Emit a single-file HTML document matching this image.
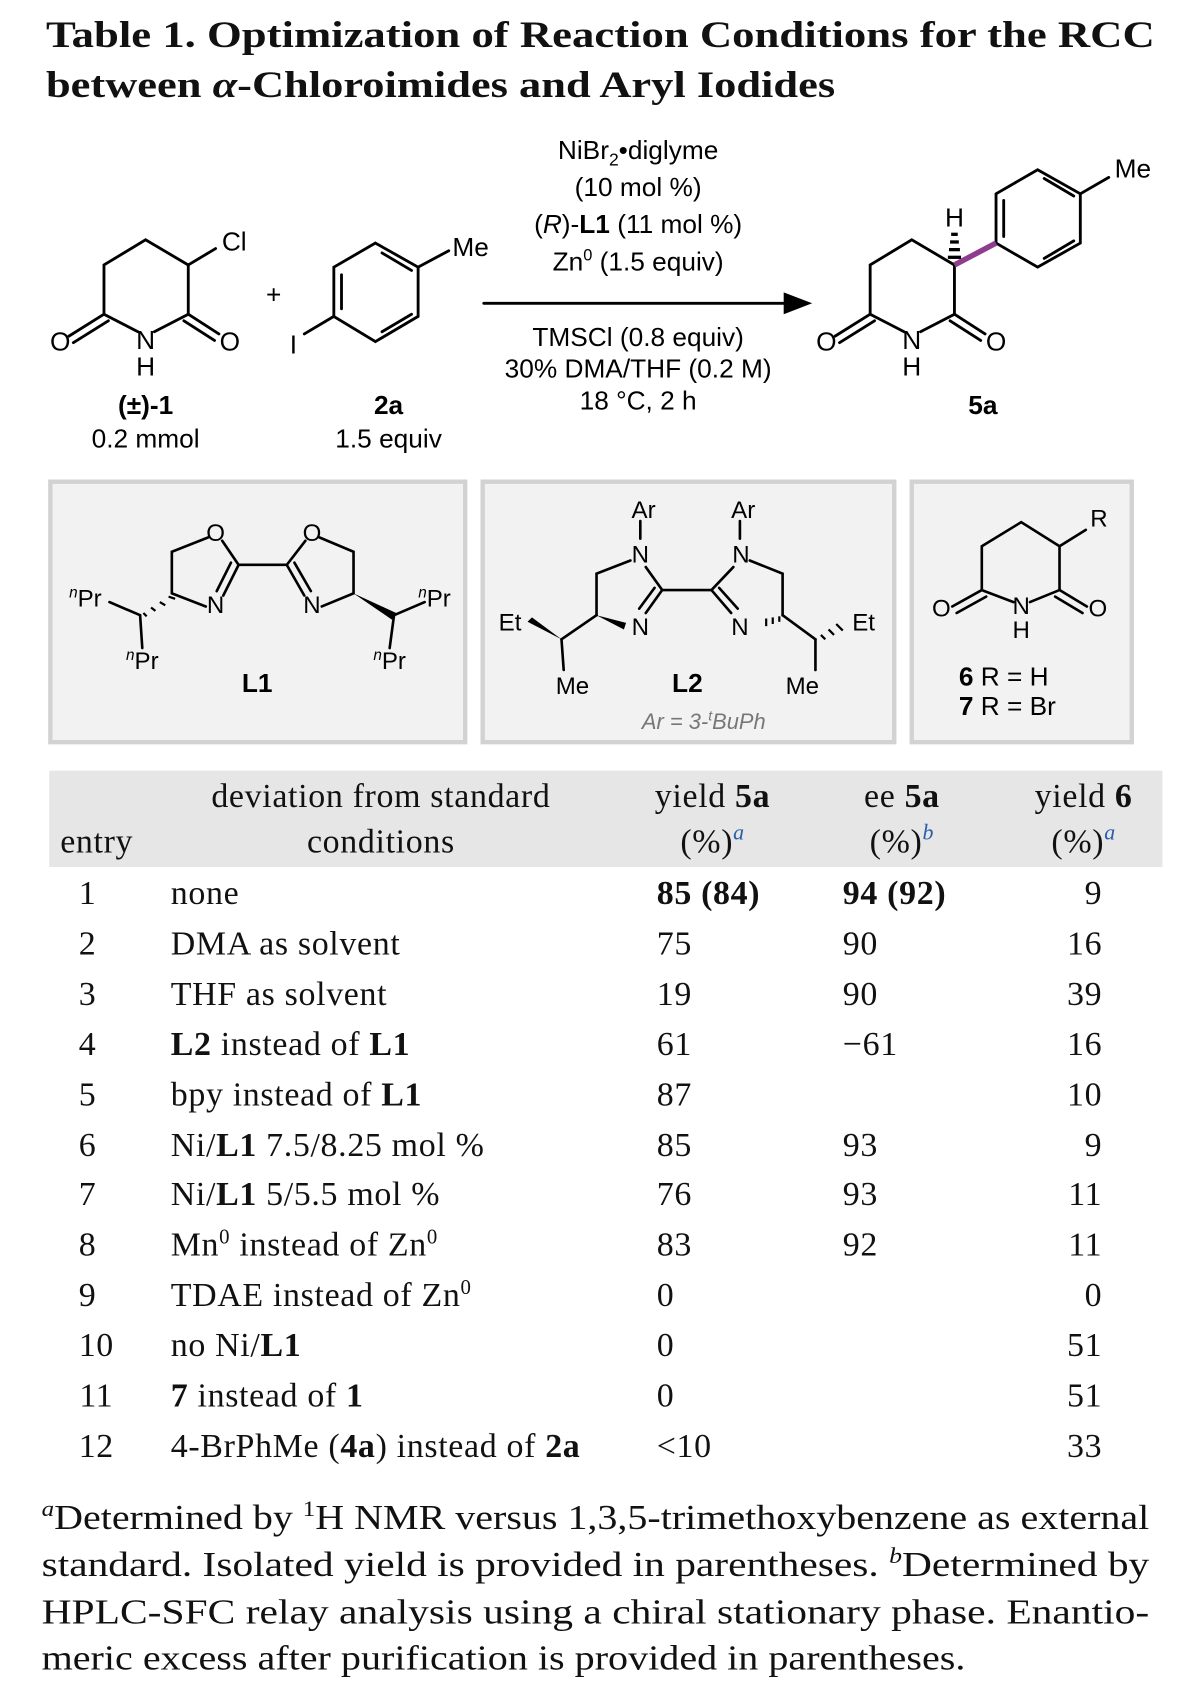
<!DOCTYPE html>
<html><head><meta charset="utf-8"><style>
html,body{margin:0;padding:0;background:#fff;}
svg{display:block}
.s{font-family:"Liberation Sans",sans-serif;fill:#000}
.r{font-family:"Liberation Serif",serif;fill:#111}
.t{letter-spacing:0.6px}
</style></head><body>
<svg width="1204" height="1700" viewBox="0 0 1100 1553" xmlns="http://www.w3.org/2000/svg">
<g class="r" font-weight="bold" font-size="34">
<text x="42" y="43" textLength="1013" lengthAdjust="spacingAndGlyphs">Table 1. Optimization of Reaction Conditions for the RCC</text>
<text x="42" y="88.5" textLength="721" lengthAdjust="spacingAndGlyphs">between <tspan font-style="italic">α</tspan>-Chloroimides and Aryl Iodides</text>
</g>
<g transform="translate(0,-3)">
<g stroke="#000" stroke-width="2.6" fill="none" stroke-linecap="round">
<polyline points="126,306 95,290 95,245 133,222 172,245 172,290 141,306"/>
<line x1="172" y1="245" x2="197" y2="230"/>
<line x1="95" y1="290" x2="63" y2="310"/><line x1="99" y1="296" x2="67" y2="316"/>
<line x1="172" y1="290" x2="200" y2="308"/><line x1="168" y1="296" x2="196" y2="314"/>
<polygon points="343,225 382,247 382,292 343,315 305,292 305,247"/>
<line x1="312" y1="254" x2="312" y2="285"/><line x1="349" y1="306" x2="376" y2="290"/><line x1="349" y1="234" x2="376" y2="250"/>
<line x1="382" y1="247" x2="410" y2="232"/>
<line x1="305" y1="292" x2="278" y2="308"/>
<line x1="442" y1="280" x2="722" y2="280"/>
<polyline points="826,306 795,290 795,245 833,222 872,245 872,290 841,306"/>
<line x1="795" y1="290" x2="763" y2="310"/><line x1="799" y1="296" x2="767" y2="316"/>
<line x1="872" y1="290" x2="900" y2="308"/><line x1="868" y1="296" x2="896" y2="314"/>
<polygon points="910,180 948,158 987,180 987,225 948,247 910,225"/>
<line x1="917" y1="186" x2="917" y2="219"/><line x1="954" y1="166" x2="981" y2="182"/><line x1="954" y1="239" x2="981" y2="223"/>
<line x1="987" y1="180" x2="1013" y2="165"/>
</g>
<line x1="872" y1="245" x2="910" y2="225" stroke="#8e3c8e" stroke-width="5"/>
<g stroke="#000" stroke-width="3"><line x1="866" y1="238" x2="878" y2="238"/><line x1="867" y1="231" x2="877" y2="231"/><line x1="868" y1="224" x2="876" y2="224"/><line x1="869" y1="217" x2="875" y2="217"/></g>
<polygon points="742,280 716,270 716,290" fill="#000"/>
<g class="s" font-size="24" text-anchor="middle">
<text x="214" y="232">Cl</text><text x="55" y="323">O</text><text x="210" y="323">O</text>
<text x="133" y="322">N</text><text x="133" y="346">H</text>
<text x="133" y="381" font-weight="bold">(±)-1</text><text x="133" y="412">0.2 mmol</text>
<text x="250" y="280">+</text>
<text x="430" y="237">Me</text><text x="268" y="326">I</text>
<text x="355" y="381" font-weight="bold">2a</text><text x="355" y="412">1.5 equiv</text>
<text x="583" y="148">NiBr<tspan font-size="16" dy="6">2</tspan><tspan dy="-6">•diglyme</tspan></text>
<text x="583" y="182">(10 mol %)</text>
<text x="583" y="216">(<tspan font-style="italic">R</tspan>)-<tspan font-weight="bold">L1</tspan> (11 mol %)</text>
<text x="583" y="250">Zn<tspan font-size="15" dy="-9">0</tspan><tspan dy="9"> (1.5 equiv)</tspan></text>
<text x="583" y="319">TMSCl (0.8 equiv)</text>
<text x="583" y="348">30% DMA/THF (0.2 M)</text>
<text x="583" y="377">18 °C, 2 h</text>
<text x="755" y="323">O</text><text x="910" y="323">O</text>
<text x="833" y="322">N</text><text x="833" y="346">H</text>
<text x="872" y="210">H</text>
<text x="1035" y="165">Me</text>
<text x="898" y="381" font-weight="bold">5a</text>
</g>
</g>
<g transform="translate(0,-6)">
<g fill="#f2f2f2" stroke="#d2d2d2" stroke-width="4">
<rect x="46" y="446" width="379" height="238"/><rect x="441" y="446" width="376" height="238"/><rect x="833" y="446" width="201" height="238"/>
</g>
<g stroke="#000" stroke-width="2.4" fill="none" stroke-linecap="round">
<polyline points="190,497 157,510 157,548 188,560"/><line x1="203" y1="500" x2="218" y2="522"/><line x1="218" y1="522" x2="204" y2="550"/><line x1="211" y1="520" x2="198" y2="546"/>
<line x1="218" y1="522" x2="262" y2="522"/>
<polyline points="292,497 323,510 323,548 294,560"/><line x1="279" y1="500" x2="262" y2="522"/><line x1="262" y1="522" x2="278" y2="550"/><line x1="269" y1="520" x2="284" y2="546"/>
<line x1="128" y1="568" x2="100" y2="556"/><line x1="128" y1="568" x2="130" y2="598"/>
<line x1="360" y1="568" x2="388" y2="556"/><line x1="360" y1="568" x2="356" y2="598"/>
<line x1="585" y1="482" x2="585" y2="498"/><line x1="676" y1="482" x2="676" y2="498"/>
<polyline points="576,518 545,530 545,568"/><line x1="590" y1="524" x2="605" y2="545"/>
<line x1="605" y1="545" x2="590" y2="566"/><line x1="598" y1="543" x2="584" y2="562"/>
<line x1="605" y1="545" x2="650" y2="545"/>
<polyline points="685,518 715,530 715,568"/><line x1="670" y1="524" x2="650" y2="545"/>
<line x1="650" y1="545" x2="668" y2="566"/><line x1="657" y1="543" x2="674" y2="562"/>
<line x1="513" y1="590" x2="515" y2="618"/><line x1="745" y1="590" x2="745" y2="618"/>
<line x1="545" y1="568" x2="513" y2="590"/><line x1="715" y1="568" x2="745" y2="590"/>
<polyline points="926,556 897,545 897,505 933,483 968,505 968,545 941,556"/>
<line x1="968" y1="505" x2="992" y2="490"/>
<line x1="897" y1="545" x2="870" y2="560"/><line x1="901" y1="551" x2="874" y2="566"/>
<line x1="968" y1="545" x2="993" y2="560"/><line x1="964" y1="551" x2="989" y2="566"/>
</g>
<g fill="#000">
<polygon points="323,548 362,566 358,572"/>
<polygon points="545,568 572,575 570,581"/>
<polygon points="513,590 482,574 486,570"/>
</g>
<g stroke="#000" stroke-width="2">
<line x1="154" y1="551" x2="160" y2="553"/><line x1="146" y1="556" x2="151" y2="559"/><line x1="138" y1="561" x2="142" y2="564"/><line x1="131" y1="566" x2="134" y2="569"/>
<line x1="700" y1="571" x2="700" y2="578"/><line x1="706" y1="570" x2="706" y2="576"/><line x1="712" y1="569" x2="712" y2="574"/>
<line x1="750" y1="586" x2="754" y2="590"/><line x1="757" y1="581" x2="762" y2="586"/><line x1="764" y1="576" x2="770" y2="582"/>
</g>
<g class="s" font-size="22" text-anchor="middle">
<text x="197" y="500">O</text><text x="285" y="500">O</text><text x="197" y="566">N</text><text x="285" y="566">N</text>
<text x="78" y="560"><tspan font-size="14" dy="-8" font-style="italic">n</tspan><tspan dy="8">Pr</tspan></text>
<text x="130" y="617"><tspan font-size="14" dy="-8" font-style="italic">n</tspan><tspan dy="8">Pr</tspan></text>
<text x="397" y="560"><tspan font-size="14" dy="-8" font-style="italic">n</tspan><tspan dy="8">Pr</tspan></text>
<text x="356" y="617"><tspan font-size="14" dy="-8" font-style="italic">n</tspan><tspan dy="8">Pr</tspan></text>
<text x="235" y="638" font-weight="bold" font-size="24">L1</text>
<text x="588" y="479">Ar</text><text x="679" y="479">Ar</text>
<text x="585" y="520">N</text><text x="677" y="520">N</text>
<text x="585" y="586">N</text><text x="676" y="586">N</text>
<text x="466" y="582">Et</text><text x="789" y="582">Et</text>
<text x="523" y="640">Me</text><text x="733" y="640">Me</text>
<text x="628" y="638" font-weight="bold" font-size="24">L2</text>
<text x="643" y="672" font-style="italic" fill="#777" font-size="20">Ar = 3-<tspan font-size="13" dy="-8">t</tspan><tspan dy="8">BuPh</tspan></text>
<text x="1004" y="487">R</text>
<text x="860" y="569">O</text><text x="1003" y="569">O</text>
<text x="933" y="567">N</text><text x="933" y="589">H</text>
</g>
<g class="s" font-size="24">
<text x="876" y="632"><tspan font-weight="bold">6</tspan>  R = H</text>
<text x="876" y="659"><tspan font-weight="bold">7</tspan>  R = Br</text>
</g>
</g>
<rect x="45" y="704" width="1017" height="88" fill="#e6e6e6"/>
<g class="r t" font-size="31">
<text x="55" y="779">entry</text>
<text x="348" y="737" text-anchor="middle">deviation from standard</text>
<text x="348" y="779" text-anchor="middle">conditions</text>
<text x="651" y="737" text-anchor="middle">yield <tspan font-weight="bold">5a</tspan></text>
<text x="651" y="779" text-anchor="middle">(%)<tspan font-style="italic" font-size="20" dy="-12" fill="#2a5fa8">a</tspan></text>
<text x="824" y="737" text-anchor="middle">ee <tspan font-weight="bold">5a</tspan></text>
<text x="824" y="779" text-anchor="middle">(%)<tspan font-style="italic" font-size="20" dy="-12" fill="#2a5fa8">b</tspan></text>
<text x="990" y="737" text-anchor="middle">yield <tspan font-weight="bold">6</tspan></text>
<text x="990" y="779" text-anchor="middle">(%)<tspan font-style="italic" font-size="20" dy="-12" fill="#2a5fa8">a</tspan></text>
</g>
<g class="r t" font-size="31">
<g text-anchor="middle">
<text x="80" y="826">1</text><text x="80" y="872">2</text><text x="80" y="918">3</text><text x="80" y="964">4</text><text x="80" y="1010">5</text><text x="80" y="1056">6</text><text x="80" y="1101">7</text><text x="80" y="1147">8</text><text x="80" y="1193">9</text><text x="88" y="1239">10</text><text x="88" y="1285">11</text><text x="88" y="1331">12</text>
</g>
<text x="156" y="826">none</text>
<text x="156" y="872">DMA as solvent</text>
<text x="156" y="918">THF as solvent</text>
<text x="156" y="964"><tspan font-weight="bold">L2</tspan> instead of <tspan font-weight="bold">L1</tspan></text>
<text x="156" y="1010">bpy instead of <tspan font-weight="bold">L1</tspan></text>
<text x="156" y="1056">Ni/<tspan font-weight="bold">L1</tspan> 7.5/8.25 mol %</text>
<text x="156" y="1101">Ni/<tspan font-weight="bold">L1</tspan> 5/5.5 mol %</text>
<text x="156" y="1147">Mn<tspan font-size="19" dy="-11">0</tspan><tspan dy="11"> instead of Zn</tspan><tspan font-size="19" dy="-11">0</tspan></text>
<text x="156" y="1193">TDAE instead of Zn<tspan font-size="19" dy="-11">0</tspan></text>
<text x="156" y="1239">no Ni/<tspan font-weight="bold">L1</tspan></text>
<text x="156" y="1285"><tspan font-weight="bold">7</tspan> instead of <tspan font-weight="bold">1</tspan></text>
<text x="156" y="1331">4-BrPhMe (<tspan font-weight="bold">4a</tspan>) instead of <tspan font-weight="bold">2a</tspan></text>
<text x="600" y="826" font-weight="bold">85 (84)</text>
<text x="600" y="872">75</text><text x="600" y="918">19</text><text x="600" y="964">61</text><text x="600" y="1010">87</text><text x="600" y="1056">85</text><text x="600" y="1101">76</text><text x="600" y="1147">83</text><text x="600" y="1193">0</text><text x="600" y="1239">0</text><text x="600" y="1285">0</text><text x="600" y="1331">&lt;10</text>
<text x="770" y="826" font-weight="bold">94 (92)</text>
<text x="770" y="872">90</text><text x="770" y="918">90</text><text x="770" y="964">−61</text><text x="770" y="1056">93</text><text x="770" y="1101">93</text><text x="770" y="1147">92</text>
<g text-anchor="end">
<text x="1007" y="826">9</text><text x="1007" y="872">16</text><text x="1007" y="918">39</text><text x="1007" y="964">16</text><text x="1007" y="1010">10</text><text x="1007" y="1056">9</text><text x="1007" y="1101">11</text><text x="1007" y="1147">11</text><text x="1007" y="1193">0</text><text x="1007" y="1239">51</text><text x="1007" y="1285">51</text><text x="1007" y="1331">33</text>
</g>
</g>
<g class="r" font-size="32">
<text x="38" y="1397" textLength="1012" lengthAdjust="spacingAndGlyphs"><tspan font-style="italic" font-size="20" dy="-12">a</tspan><tspan dy="12">Determined by </tspan><tspan font-size="20" dy="-12">1</tspan><tspan dy="12">H NMR versus 1,3,5-trimethoxybenzene as external</tspan></text>
<text x="38" y="1440" textLength="1012" lengthAdjust="spacingAndGlyphs">standard. Isolated yield is provided in parentheses. <tspan font-style="italic" font-size="20" dy="-12">b</tspan><tspan dy="12">Determined by</tspan></text>
<text x="38" y="1483" textLength="1012" lengthAdjust="spacingAndGlyphs">HPLC-SFC relay analysis using a chiral stationary phase. Enantio-</text>
<text x="38" y="1525" textLength="844" lengthAdjust="spacingAndGlyphs">meric excess after purification is provided in parentheses.</text>
</g>
</svg>
</body></html>
